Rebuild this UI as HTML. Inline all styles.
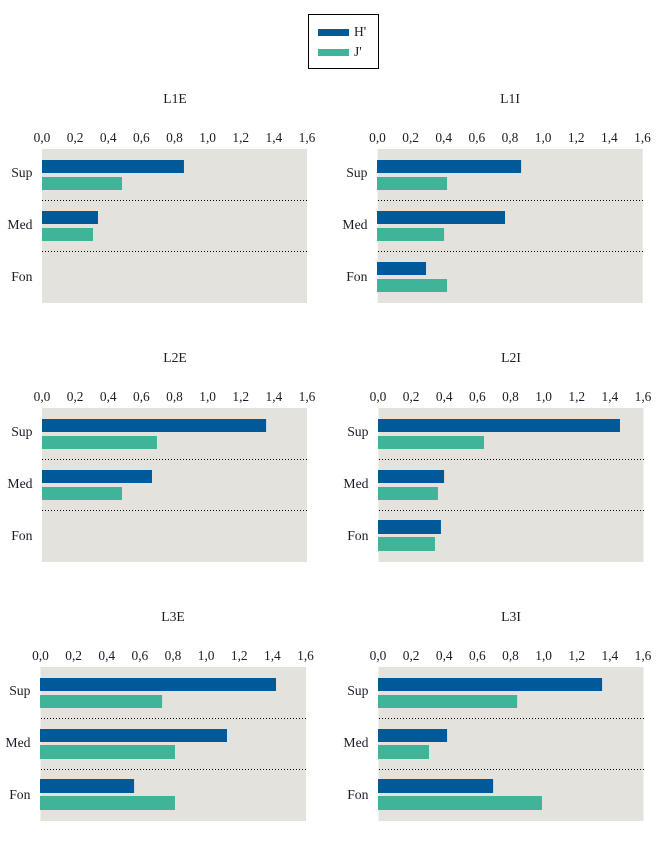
<!DOCTYPE html>
<html lang="es">
<head>
<meta charset="utf-8">
<title>Barras H' y J'</title>
<style>
html,body{margin:0;padding:0;background:#fff;}
body{width:670px;height:847px;overflow:hidden;}
svg{display:block;}
text{font-family:"Liberation Serif",serif;fill:#1c1c28;}
</style>
</head>
<body>
<svg id="chart" xmlns="http://www.w3.org/2000/svg" width="670" height="847" viewBox="0 0 670 847">
  <g>
    <rect x="308.5" y="14.5" width="70" height="54" fill="#fff" stroke="#000" stroke-width="1"/>
    <rect x="318" y="29" width="31" height="7" fill="#005a9a"/>
    <text x="354" y="36" font-size="13.5">H'</text>
    <rect x="318" y="49" width="31" height="7" fill="#40b499"/>
    <text x="354" y="56" font-size="13.5">J'</text>
  </g>
</svg>
<script>
const categories = ['Sup', 'Med', 'Fon'];
const tickValues = [0, 0.2, 0.4, 0.6, 0.8, 1.0, 1.2, 1.4, 1.6];
const tickLabels = ['0,0', '0,2', '0,4', '0,6', '0,8', '1,0', '1,2', '1,4', '1,6'];

const L1E_H = [0.857, 0.338, 0];
const L1E_J = [0.483, 0.308, 0];
const L1I_H = [0.870, 0.773, 0.296];
const L1I_J = [0.423, 0.405, 0.423];
const L2E_H = [1.353, 0.664, 0];
const L2E_J = [0.694, 0.483, 0];
const L2I_H = [1.461, 0.399, 0.380];
const L2I_J = [0.640, 0.362, 0.344];
const L3E_H = [1.425, 1.129, 0.568];
const L3E_J = [0.737, 0.815, 0.815];
const L3I_H = [1.353, 0.417, 0.695];
const L3I_J = [0.840, 0.308, 0.990];

const svgNS = 'http://www.w3.org/2000/svg';
const root = document.getElementById('chart');
const domainMax = 1.6;
const plotW = 265;
const plotH = 154;
const rowStep = 51;

function make(tag, attrs, parent) {
  const el = document.createElementNS(svgNS, tag);
  Object.keys(attrs).forEach(function (k) { el.setAttribute(k, attrs[k]); });
  parent.appendChild(el);
  return el;
}

function drawPanel(title, left, top, hValues, jValues, bgInset, snug, tickShift) {
  const slug = title.toLowerCase();
  const xScale = function (v) { return left + v / domainMax * plotW; };
  const barY = function (i, s) { return top + 11 + s * 17 + i * rowStep; };
  const labelY = function (i) { return top + 28 + i * 52; };
  /* snug: the rasterised bars in the lower rows sit 1px higher and 1px taller */
  const isTall = function (i, s) { return (snug >= 1 && i === 2) || (snug >= 2 && i === 1 && s === 1); };

  const g = make('g', {}, root);
  
  

  const bg = make('rect', { x: left + bgInset, y: top, width: plotW + (snug >= 2 && bgInset < 0.6 && left < 100 ? 0.5 : 0), height: plotH, fill: '#e3e2dd' }, g);
  
  

  const t = make('text', { x: left + 133, y: top - 46, 'font-size': 13.7, 'text-anchor': 'middle' }, g);
  t.textContent = title;
  
  

  tickValues.forEach(function (v, i) {
    const tick = make('text', { x: xScale(v) + tickShift, y: top - 7, 'font-size': 13.4, 'text-anchor': 'middle' }, g);
    tick.textContent = tickLabels[i];
    
    
  });

  categories.forEach(function (c, i) {
    const lab = make('text', { x: left - 9.5, y: labelY(i), 'font-size': 13.7, 'text-anchor': 'end' }, g);
    lab.textContent = c;
    
    

    const hBar = make('rect', { x: xScale(0), y: barY(i, 0) - (isTall(i, 0) ? 1 : 0), width: xScale(hValues[i]) - xScale(0), height: isTall(i, 0) ? 14 : 13, fill: '#005a9a' }, g);
    
    

    const jBar = make('rect', { x: xScale(0), y: barY(i, 1) - (isTall(i, 1) ? 1 : 0), width: xScale(jValues[i]) - xScale(0), height: isTall(i, 1) ? 14 : 13, fill: '#40b499' }, g);
    
    

    if (i > 0) {
      const lineY = top + 51.5 + (i - 1) * rowStep;
      const lineX = Math.round(left + bgInset);
      const sep = make('line', { x1: lineX, x2: lineX + plotW, y1: lineY, y2: lineY, stroke: '#000', 'stroke-width': 1, 'stroke-dasharray': '1 2' }, g);
      
      
    }
  });
}

drawPanel('L1E', 42, 149, L1E_H, L1E_J, 0, 0, 0);
drawPanel('L1I', 377, 149, L1I_H, L1I_J, 0.7, 0, 0.5);
drawPanel('L2E', 42, 408, L2E_H, L2E_J, 0, 0, 0);
drawPanel('L2I', 378, 408, L2I_H, L2I_J, 0.5, 1, 0);
drawPanel('L3E', 40, 667, L3E_H, L3E_J, 0.5, 2, 0.5);
drawPanel('L3I', 378, 667, L3I_H, L3I_J, 0.5, 2, 0);
</script>
</body>
</html>
